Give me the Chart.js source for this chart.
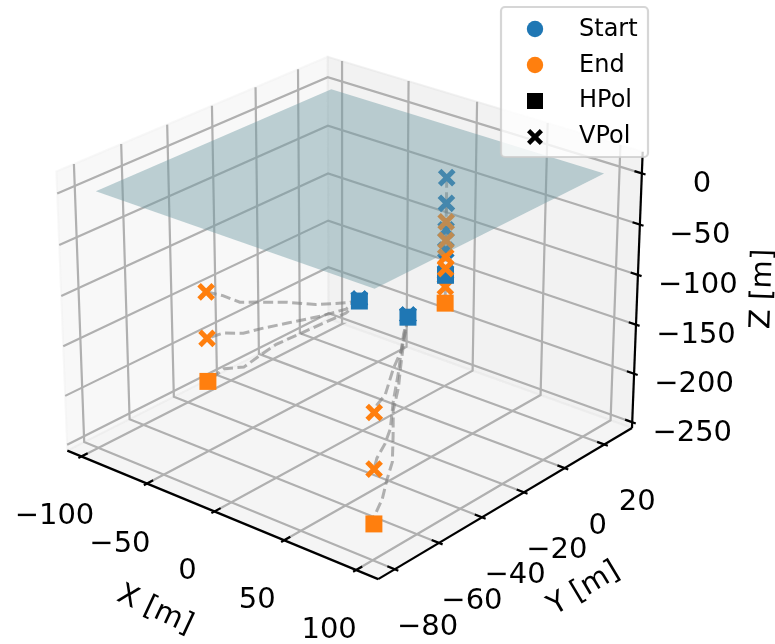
<!doctype html>
<html lang="en">
<head>
    <meta charset="UTF-8">
    <title>Antenna ray paths</title>
    <script src="https://cdn.jsdelivr.net/npm/chart.js"></script>
    <style>
        html, body { margin: 0; padding: 0; background: #fff; }
        canvas { display: block; }
    </style>
</head>
<body>
    <canvas id="rays" width="775" height="644"></canvas>
    <script>
        // axis limits and ticks (metres)
        const xLim = [-111, 115];
        const yLim = [-87.3, 34.3];
        const zLim = [-256, 21];
        const xTicks = [-100, -50, 0, 50, 100];
        const yTicks = [-80, -60, -40, -20, 0, 20];
        const zTicks = [-250, -200, -150, -100, -50, 0];

        // HPol antennas, one per string
        const startHX = [10, 44.5, -9];
        const startHY = [-28, -28, 26];
        const startHZ = [-110, -109, -151];
        const endHX = [-96, 100, -9];
        const endHY = [-33, -79.5, 26];
        const endHZ = [-240, -221, -180];

        // VPol antennas
        const startVX = [10, 10, 44.5, 44.5, -9, -9, -9, -9, -9];
        const startVY = [-28, -28, -28, -28, 26, 26, 26, 26, 26];
        const startVZ = [-108, -108, -107, -107, -51, -77, -104, -125, -148];
        const endVX = [-96, -96, 100, 100, -9, -9, -9, -9];
        const endVY = [-33, -33, -79.5, -79.5, 26, 26, 26, 26];
        const endVZ = [-147, -195, -114, -168, -96, -115, -132, -144];
        const hiddenEndV = [-9, 26, -163]; // sits under the blue square

        // bent ray paths, [x, y, z]
        const rayA = [[10, -28, -108], [3, -28, -115], [-19.5, -29.4, -126.5], [-40, -30.4, -133], [-60.7, -31.4, -142], [-72, -32, -147], [-84, -32.5, -145.6], [-96, -33, -147]];
        const rayB = [[10, -28, -108], [1, -28.4, -122], [-15.4, -29.2, -136], [-38, -30.3, -153], [-56.6, -31.2, -167], [-70, -31.8, -178], [-84, -32.5, -184], [-96, -33, -195]];
        const rayC = [[10, -28, -110], [1, -28.4, -126], [-15.4, -29.2, -144], [-31, -30, -161.5], [-47, -30.7, -179], [-58.7, -31.3, -196], [-70, -31.8, -213], [-84, -32.5, -221], [-96, -33, -240]];
        const rayD = [[44.5, -28, -107], [53, -35.6, -113], [56, -38.7, -124.6], [67, -49.4, -123.6], [80, -61.6, -128.4], [91, -72.4, -119.7], [100, -79.5, -114]];
        const rayE = [[44.5, -28, -107], [51, -34, -119], [57.7, -40, -125], [61, -43, -136], [64, -46, -144], [67, -49.4, -155.6], [72, -54, -175], [80, -61.6, -176], [91, -72.4, -171], [100, -79.5, -168]];
        const rayF = [[44.5, -28, -109], [51, -34, -120], [57.7, -40, -138], [59, -41.8, -155.6], [67, -49.4, -165], [67, -49.4, -190], [69, -51, -213], [77, -58.6, -216], [85, -66, -222], [94, -75.4, -222], [100, -79.5, -221]];
        const rayG = [[-9, 26, -51], [-9, 26, -96]];
        const rayH = [[-9, 26, -77], [-9, 26, -115]];
        const rayI = [[-9, 26, -104], [-9, 26, -132]];
        const rayJ = [[-9, 26, -125], [-9, 26, -144]];
        const rayK = [[-9, 26, -148], [-9, 26, -180]];

        // ice surface
        const planeX = [-96, 100];
        const planeY = [-79.5, 26.5];
        const planeZ = 1;

        // view, same maths as mplot3d with elev 25, azim -50
        const rad = Math.PI / 180;
        const elev = 25 * rad, azim = -50 * rad, dist = 10;
        const box = [1.1905, 1.1905, 0.8929];
        const right = [-Math.sin(azim), Math.cos(azim), 0];
        const up = [-Math.sin(elev) * Math.cos(azim), -Math.sin(elev) * Math.sin(azim), Math.cos(elev)];
        const eye = [Math.cos(elev) * Math.cos(azim), Math.cos(elev) * Math.sin(azim), Math.sin(elev)];
        const dot = (a, b) => a[0] * b[0] + a[1] * b[1] + a[2] * b[2];

        function project(x, y, z) {
            const p = [
                ((x - xLim[0]) / (xLim[1] - xLim[0]) - 0.5) * box[0],
                ((y - yLim[0]) / (yLim[1] - yLim[0]) - 0.5) * box[1],
                ((z - zLim[0]) / (zLim[1] - zLim[0]) - 0.5) * box[2]
            ];
            const d = dist - dot(p, eye);
            return { x: dot(p, right) * dist / d, y: dot(p, up) * dist / d };
        }
        const projectAll = pts => pts.map(p => project(p[0], p[1], p[2]));

        // 343 px per view unit, view centre at (351.5, 303)
        const scaleX = { type: 'linear', display: false, min: -351.5 / 343, max: 423.5 / 343 };
        const scaleY = { type: 'linear', display: false, min: -341 / 343, max: 303 / 343 };

        const datasets = [];
        function addLine(pts, color, width, extra) {
            datasets.push(Object.assign({
                data: projectAll(pts),
                showLine: true,
                borderColor: color,
                borderWidth: width,
                pointRadius: 0,
                clip: false,
                fill: false
            }, extra || {}));
        }
        function addPane(pts, color) {
            addLine(pts, color, 2, { fill: 'shape', backgroundColor: color });
        }
        function addMarkers(xs, ys, zs, color, style, radius, lineWidth) {
            datasets.push({
                data: xs.map((x, i) => project(x, ys[i], zs[i])),
                showLine: false,
                pointStyle: style,
                pointRadius: radius,
                pointBackgroundColor: color,
                pointBorderColor: color,
                pointBorderWidth: lineWidth,
                clip: false
            });
        }

        const [x0, x1] = xLim, [y0, y1] = yLim, [z0, z1] = zLim;

        // panes
        addPane([[x0, y0, z0], [x0, y1, z0], [x0, y1, z1], [x0, y0, z1], [x0, y0, z0]], 'rgba(242,242,242,0.5)');
        addPane([[x0, y1, z0], [x1, y1, z0], [x1, y1, z1], [x0, y1, z1], [x0, y1, z0]], 'rgba(230,230,230,0.5)');
        addPane([[x0, y0, z0], [x1, y0, z0], [x1, y1, z0], [x0, y1, z0], [x0, y0, z0]], 'rgba(236,236,236,0.5)');

        // grid
        const gridColor = '#b0b0b0', gridWidth = 2.2;
        xTicks.forEach(t => addLine([[t, y0, z0], [t, y1, z0], [t, y1, z1]], gridColor, gridWidth));
        yTicks.forEach(t => addLine([[x1, t, z0], [x0, t, z0], [x0, t, z1]], gridColor, gridWidth));
        zTicks.forEach(t => addLine([[x0, y0, t], [x0, y1, t], [x1, y1, t]], gridColor, gridWidth));

        // axes and ticks
        const axisWidth = 2.2;
        addLine([[x0, y0, z0], [x1, y0, z0]], '#000', axisWidth);
        addLine([[x1, y0, z0], [x1, y1, z0]], '#000', axisWidth);
        addLine([[x1, y1, z0], [x1, y1, z1]], '#000', axisWidth);
        const xIn = (x1 - x0) * 0.022, xOut = (x1 - x0) * 0.011;
        const yIn = (y1 - y0) * 0.022, yOut = (y1 - y0) * 0.011;
        xTicks.forEach(t => addLine([[t, y0 + yIn, z0], [t, y0 - yOut, z0]], '#000', axisWidth));
        yTicks.forEach(t => addLine([[x1 - xIn, t, z0], [x1 + xOut, t, z0]], '#000', axisWidth));
        zTicks.forEach(t => addLine([[x1 - xIn, y1, t], [x1 + xOut, y1, t]], '#000', axisWidth));

        // rays
        [rayA, rayB, rayC, rayD, rayE, rayF, rayG, rayH, rayI, rayJ, rayK].forEach(ray => {
            addLine(ray, 'rgba(128,128,128,0.6)', 3, { borderDash: [10, 4.5] });
        });

        // markers
        const blue = '#1f77b4', orange = '#ff7f0e';
        addMarkers(startVX, startVY, startVZ, blue, 'crossRot', 10, 5);
        addMarkers([hiddenEndV[0]], [hiddenEndV[1]], [hiddenEndV[2]], orange, 'crossRot', 10, 5);
        addMarkers(startHX, startHY, startHZ, blue, 'rect', 12, 0);
        addMarkers(endVX, endVY, endVZ, orange, 'crossRot', 10, 5);
        addMarkers(endHX, endHY, endHZ, orange, 'rect', 12, 0);

        // ice surface goes over everything
        addLine([[planeX[0], planeY[0], planeZ], [planeX[1], planeY[0], planeZ], [planeX[1], planeY[1], planeZ], [planeX[0], planeY[1], planeZ], [planeX[0], planeY[0], planeZ]],
            'rgba(0,0,0,0)', 0, { fill: 'shape', backgroundColor: 'rgba(112,155,165,0.45)' });

        // chart.js paints the highest order first
        datasets.forEach((d, i) => { d.order = -i; });

        const minus = v => String(v).replace('-', '\u2212');

        const textPlugin = {
            id: 'axisText',
            afterDraw(chart) {
                const ctx = chart.ctx;
                const sx = chart.scales.x, sy = chart.scales.y;
                const at = (x, y, z) => {
                    const p = project(x, y, z);
                    return [sx.getPixelForValue(p.x), sy.getPixelForValue(p.y)];
                };
                ctx.save();
                ctx.fillStyle = '#000';
                ctx.textAlign = 'center';
                ctx.textBaseline = 'middle';
                ctx.font = '29px "DejaVu Sans"';

                xTicks.forEach(t => {
                    const [px, py] = at(t, y0, z0);
                    ctx.fillText(minus(t), px - 27, py + 60.5);
                });
                yTicks.forEach(t => {
                    const [px, py] = at(x1, t, z0);
                    ctx.fillText(minus(t), px + 33, py + 58.5);
                });
                zTicks.forEach(t => {
                    const [px, py] = at(x1, y1, t);
                    ctx.fillText(minus(t), px + 60, py + 11);
                });

                const rotated = (text, px, py, deg) => {
                    ctx.save();
                    ctx.translate(px, py);
                    ctx.rotate(deg * rad);
                    ctx.fillText(text, 0, 0);
                    ctx.restore();
                };
                rotated('X [m]', 155, 610, 25);
                rotated('Y [m]', 584, 589, -31);
                rotated('Z [m]', 763, 289, -88);

                // legend
                ctx.beginPath();
                ctx.roundRect(501, 7, 147, 150, 4);
                ctx.fillStyle = 'rgba(255,255,255,0.8)';
                ctx.fill();
                ctx.strokeStyle = 'rgba(204,204,204,0.8)';
                ctx.lineWidth = 2.2;
                ctx.stroke();

                ctx.fillStyle = blue;
                ctx.beginPath();
                ctx.arc(535, 29, 8.2, 0, Math.PI * 2);
                ctx.fill();
                ctx.fillStyle = orange;
                ctx.beginPath();
                ctx.arc(535, 65, 8.2, 0, Math.PI * 2);
                ctx.fill();
                ctx.fillStyle = '#000';
                ctx.fillRect(527, 93, 16, 16);
                ctx.strokeStyle = '#000';
                ctx.lineWidth = 4.5;
                ctx.beginPath();
                ctx.moveTo(528.6, 130.6);
                ctx.lineTo(541.4, 143.4);
                ctx.moveTo(541.4, 130.6);
                ctx.lineTo(528.6, 143.4);
                ctx.stroke();

                ctx.fillStyle = '#000';
                ctx.textAlign = 'left';
                ctx.font = '24px "DejaVu Sans"';
                ctx.fillText('Start', 579, 29.5);
                ctx.fillText('End', 579, 65.5);
                ctx.fillText('HPol', 579, 101);
                ctx.fillText('VPol', 579, 136.5);
                ctx.restore();
            }
        };

        new Chart(document.getElementById('rays').getContext('2d'), {
            type: 'scatter',
            data: { datasets: datasets },
            options: {
                responsive: false,
                animation: false,
                devicePixelRatio: 1,
                layout: { padding: 0, autoPadding: false },
                scales: { x: scaleX, y: scaleY },
                plugins: { legend: { display: false }, tooltip: { enabled: false } }
            },
            plugins: [textPlugin]
        });
    </script>
</body>
</html>
